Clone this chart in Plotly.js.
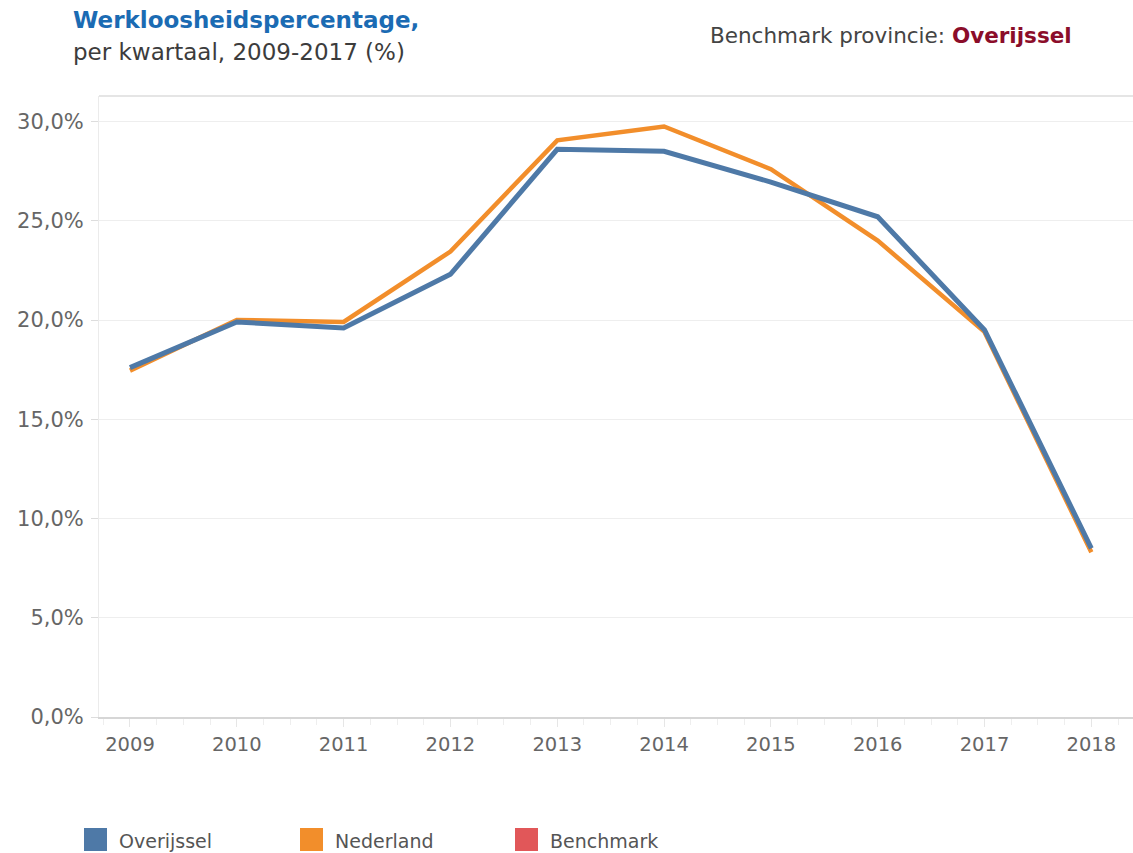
<!DOCTYPE html>
<html>
<head>
<meta charset="utf-8">
<script src="https://cdn.plot.ly/plotly-3.0.1.min.js"></script>
<style>
  html, body { margin: 0; padding: 0; background: #ffffff; }
  #chart { width: 1133px; height: 853px; }
</style>
</head>
<body>
<div id="chart"></div>
<script>
// ---- data ----
const years = [2009, 2010, 2011, 2012, 2013, 2014, 2015, 2016, 2017, 2018];
const overijssel = [17.6, 19.9, 19.6, 22.3, 28.6, 28.5, 26.95, 25.2, 19.5, 8.5];
const nederland  = [17.45, 20.0, 19.9, 23.45, 29.05, 29.75, 27.6, 24.0, 19.4, 8.3];
const benchmark  = [];
const seriesNames  = ["Overijssel", "Nederland", "Benchmark"];
const seriesColors = ["#4e79a7", "#f28e2b", "#e15759"];
const titleText    = "Werkloosheidspercentage,";
const subtitleText = "per kwartaal, 2009-2017 (%)";
const benchLabel   = "Benchmark provincie: ";
const benchName    = "Overijssel";

// ---- layout helpers (pixel geometry of the plot frame) ----
const W = 1133, H = 853;
const L = 99, R = 0, T = 96, B = 136;
const PW = W - L - R, PH = H - T - B;
const px = x => (x - L) / PW;            // page px -> paper x
const py = y => (H - B - y) / PH;        // page px -> paper y

const FONT = "DejaVu Sans, Verdana, sans-serif";

const traces = [
  { x: years, y: nederland, type: "scatter", mode: "lines", name: seriesNames[1],
    line: { color: seriesColors[1], width: 4.5 }, showlegend: false, hoverinfo: "x+y" },
  { x: years, y: overijssel, type: "scatter", mode: "lines", name: seriesNames[0],
    line: { color: seriesColors[0], width: 5 }, showlegend: false, hoverinfo: "x+y" },
  { x: benchmark.map((_, i) => years[i]), y: benchmark, type: "scatter", mode: "lines",
    name: seriesNames[2], line: { color: seriesColors[2], width: 5 }, showlegend: false }
];

// custom legend (square swatches + labels)
const legendShapes = [], legendAnnots = [];
const legX = [84, 300, 515];
seriesNames.forEach((n, i) => {
  legendShapes.push({
    type: "rect", xref: "paper", yref: "paper",
    x0: px(legX[i]), x1: px(legX[i] + 23), y0: py(851), y1: py(828),
    fillcolor: seriesColors[i], line: { width: 0 }
  });
  legendAnnots.push({
    xref: "paper", yref: "paper", x: px(legX[i] + 33), y: py(841),
    xanchor: "left", yanchor: "middle", showarrow: false, text: n,
    font: { family: FONT, size: 19, color: "#555555" }
  });
});

const layout = {
  width: W, height: H,
  margin: { l: L, r: R, t: T, b: B, pad: 0 },
  paper_bgcolor: "#ffffff", plot_bgcolor: "#ffffff",
  separators: ",.",
  showlegend: false,
  font: { family: FONT, color: "#666666" },
  xaxis: {
    range: [2008.71, 2018.39],
    tickmode: "linear", tick0: 2009, dtick: 1,
    tickformat: "d",
    showgrid: false, zeroline: false,
    showline: true, linecolor: "#d6d6d6", linewidth: 2,
    ticks: "outside", ticklen: 8, tickcolor: "#e6e6e6", tickwidth: 1,
    ticklabelstandoff: 1,
    minor: { dtick: 0.25, tick0: 2009, ticks: "outside", ticklen: 6, tickcolor: "#eeeeee", showgrid: false },
    tickfont: { family: FONT, size: 19.5, color: "#666666" },
    fixedrange: true
  },
  yaxis: {
    range: [0, (H - B - T) / 19.85],
    tickmode: "linear", tick0: 0, dtick: 5,
    tickformat: ".1f", ticksuffix: "%",
    showgrid: true, gridcolor: "#eeeeee", gridwidth: 1,
    zeroline: false,
    showline: true, linecolor: "#ebebeb", linewidth: 1,
    ticks: "outside", ticklen: 7, tickcolor: "#dddddd",
    ticklabelstandoff: 3,
    tickfont: { family: FONT, size: 21, color: "#666666" },
    fixedrange: true
  },
  shapes: [
    // top frame line
    { type: "line", xref: "paper", yref: "paper", x0: 0, x1: 1, y0: 1, y1: 1,
      line: { color: "#dcdcdc", width: 1.5 } },
    // left clip strip (labels are cut at the page edge in the original)
    { type: "rect", xref: "paper", yref: "paper", layer: "above",
      x0: px(-5), x1: px(17), y0: py(760), y1: py(100),
      fillcolor: "#ffffff", line: { width: 0 } }
  ].concat(legendShapes),
  annotations: [
    { xref: "paper", yref: "paper", x: px(71), y: py(20), xanchor: "left", yanchor: "middle",
      showarrow: false, text: "<b>" + titleText + "</b>",
      font: { family: FONT, size: 23, color: "#1b6bb3" } },
    { xref: "paper", yref: "paper", x: px(71), y: py(52), xanchor: "left", yanchor: "middle",
      showarrow: false, text: subtitleText,
      font: { family: FONT, size: 23, color: "#3c3c3c" } },
    { xref: "paper", yref: "paper", x: px(708), y: py(35), xanchor: "left", yanchor: "middle",
      showarrow: false,
      text: benchLabel + "<b><span style='color:#8b0d2a'>" + benchName + "</span></b>",
      font: { family: FONT, size: 21.5, color: "#444444" } }
  ].concat(legendAnnots)
};

Plotly.newPlot("chart", traces, layout, { displayModeBar: false, staticPlot: true });
</script>
</body>
</html>
